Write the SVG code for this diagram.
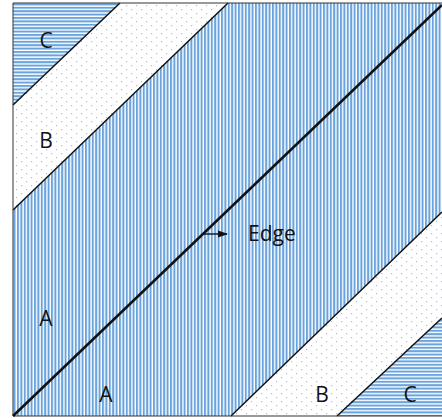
<svg xmlns="http://www.w3.org/2000/svg" width="442" height="418" viewBox="0 0 442 418">
<style>
.lbl{font-family:"Open Sans","Noto Sans",sans-serif;font-size:21px;fill:#111;text-anchor:middle}
.bd{stroke:#111;stroke-width:1.5;fill:none}
</style>
<defs>
<pattern id="vs" width="3.4" height="4" patternUnits="userSpaceOnUse"><rect width="3.4" height="4" fill="#fff"/><rect width="2" height="4" fill="#6aa3dc"/></pattern>
<pattern id="hs" width="4" height="3.4" patternUnits="userSpaceOnUse"><rect width="4" height="3.4" fill="#fff"/><rect width="4" height="2" fill="#6aa3dc"/></pattern>
<pattern id="dt" width="10" height="8" patternUnits="userSpaceOnUse"><rect width="10" height="8" fill="#fff"/><rect x="1" y="1" width="1.2" height="1.2" fill="#9dc2ea"/><rect x="6" y="5" width="1.2" height="1.2" fill="#9dc2ea"/></pattern>
<marker id="ah" markerWidth="10" markerHeight="10" refX="9" refY="5" orient="auto" markerUnits="userSpaceOnUse"><path d="M0,1.5 L10,5 L0,8.5 Z" fill="#111"/></marker>
</defs>
<rect width="442" height="418" fill="#fff"/>
<g id="regionC1"><polygon points="13,3 120,3 13,105" fill="url(#hs)"/><text class="lbl" x="46" y="48">C</text></g>
<g id="regionB1"><polygon points="120,3 228,3 13,210 13,105" fill="url(#dt)"/><text class="lbl" x="46" y="148">B</text></g>
<g id="regionA"><polygon points="228,3 442,3 442,212 231,416 13,416 13,210" fill="url(#vs)"/><text class="lbl" x="46" y="326">A</text><text class="lbl" x="106" y="402">A</text></g>
<g id="regionB2"><polygon points="442,212 442,318 337,416 231,416" fill="url(#dt)"/><text class="lbl" x="322" y="402">B</text></g>
<g id="regionC2"><polygon points="442,318 442,416 337,416" fill="url(#hs)"/><text class="lbl" x="410" y="402">C</text></g>
<g id="connectors">
<line class="bd" x1="13" y1="105" x2="120" y2="3"/>
<line class="bd" x1="13" y1="210" x2="228" y2="3"/>
<line class="bd" x1="231" y1="416" x2="442" y2="212"/>
<line class="bd" x1="337" y1="416" x2="442" y2="318"/>
<polyline points="442,3 13,3 13,416 442,416" fill="none" stroke="#333" stroke-width="1"/>
<line x1="13" y1="416" x2="442" y2="5" stroke="#111" stroke-width="2.5"/>
<line x1="203" y1="234" x2="227" y2="234" stroke="#111" stroke-width="1.4" marker-end="url(#ah)"/>
</g>
<g id="edge"><text x="248" y="241" font-family="Open Sans, Noto Sans, sans-serif" font-size="21" fill="#111">Edge</text></g>
</svg>
